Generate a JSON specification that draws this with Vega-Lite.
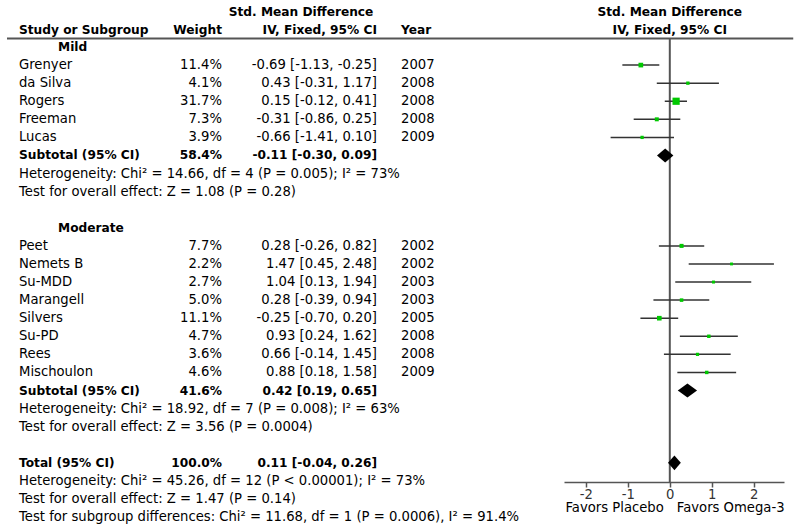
{
  "$schema": "https://vega.github.io/schema/vega-lite/v6.json",
  "padding": {"left": 6, "top": 0, "right": 0, "bottom": 0},
  "spacing": 0,
  "bounds": "flush",
  "background": "white",
  "config": {
    "view": {"stroke": null},
    "text": {"font": "DejaVu Sans", "fontSize": 13.2, "baseline": "middle", "color": "#000"}
  },
  "datasets": {
    "one": [{}],
    "studies": [
      {"row": 1, "study": "Grenyer", "w": 0.114, "est": -0.69, "lo": -1.13, "hi": -0.25, "ci": "-0.69 [-1.13, -0.25]", "year": "2007"},
      {"row": 2, "study": "da Silva", "w": 0.041, "est": 0.43, "lo": -0.31, "hi": 1.17, "ci": "0.43 [-0.31, 1.17]", "year": "2008"},
      {"row": 3, "study": "Rogers", "w": 0.317, "est": 0.15, "lo": -0.12, "hi": 0.41, "ci": "0.15 [-0.12, 0.41]", "year": "2008"},
      {"row": 4, "study": "Freeman", "w": 0.073, "est": -0.31, "lo": -0.86, "hi": 0.25, "ci": "-0.31 [-0.86, 0.25]", "year": "2008"},
      {"row": 5, "study": "Lucas", "w": 0.039, "est": -0.66, "lo": -1.41, "hi": 0.10, "ci": "-0.66 [-1.41, 0.10]", "year": "2009"},
      {"row": 11, "study": "Peet", "w": 0.077, "est": 0.28, "lo": -0.26, "hi": 0.82, "ci": "0.28 [-0.26, 0.82]", "year": "2002"},
      {"row": 12, "study": "Nemets B", "w": 0.022, "est": 1.47, "lo": 0.45, "hi": 2.48, "ci": "1.47 [0.45, 2.48]", "year": "2002"},
      {"row": 13, "study": "Su-MDD", "w": 0.027, "est": 1.04, "lo": 0.13, "hi": 1.94, "ci": "1.04 [0.13, 1.94]", "year": "2003"},
      {"row": 14, "study": "Marangell", "w": 0.050, "est": 0.28, "lo": -0.39, "hi": 0.94, "ci": "0.28 [-0.39, 0.94]", "year": "2003"},
      {"row": 15, "study": "Silvers", "w": 0.111, "est": -0.25, "lo": -0.70, "hi": 0.20, "ci": "-0.25 [-0.70, 0.20]", "year": "2005"},
      {"row": 16, "study": "Su-PD", "w": 0.047, "est": 0.93, "lo": 0.24, "hi": 1.62, "ci": "0.93 [0.24, 1.62]", "year": "2008"},
      {"row": 17, "study": "Rees", "w": 0.036, "est": 0.66, "lo": -0.14, "hi": 1.45, "ci": "0.66 [-0.14, 1.45]", "year": "2008"},
      {"row": 18, "study": "Mischoulon", "w": 0.046, "est": 0.88, "lo": 0.18, "hi": 1.58, "ci": "0.88 [0.18, 1.58]", "year": "2009"}
    ],
    "groups": [
      {"row": 0, "label": "Mild"},
      {"row": 10, "label": "Moderate"}
    ],
    "totals": [
      {"row": 6, "label": "Subtotal (95% CI)", "w": 0.584, "est": -0.11, "lo": -0.30, "hi": 0.09, "ci": "-0.11 [-0.30, 0.09]"},
      {"row": 19, "label": "Subtotal (95% CI)", "w": 0.416, "est": 0.42, "lo": 0.19, "hi": 0.65, "ci": "0.42 [0.19, 0.65]"},
      {"row": 23, "label": "Total (95% CI)", "w": 1.0, "est": 0.11, "lo": -0.04, "hi": 0.26, "ci": "0.11 [-0.04, 0.26]"}
    ],
    "notes": [
      {"row": 7, "text": "Heterogeneity: Chi² = 14.66, df = 4 (P = 0.005); I² = 73%"},
      {"row": 8, "text": "Test for overall effect: Z = 1.08 (P = 0.28)"},
      {"row": 20, "text": "Heterogeneity: Chi² = 18.92, df = 7 (P = 0.008); I² = 63%"},
      {"row": 21, "text": "Test for overall effect: Z = 3.56 (P = 0.0004)"},
      {"row": 24, "text": "Heterogeneity: Chi² = 45.26, df = 12 (P < 0.00001); I² = 73%"},
      {"row": 25, "text": "Test for overall effect: Z = 1.47 (P = 0.14)"},
      {"row": 26, "text": "Test for subgroup differences: Chi² = 11.68, df = 1 (P = 0.0006), I² = 91.4%"}
    ]
  },
  "hconcat": [
    {
      "width": 215,
      "height": 482,
      "layer": [
        {
          "data": {"name": "one"},
          "mark": {"type": "rule", "color": "#555", "strokeWidth": 2},
          "encoding": {
            "y": {"datum": -0.47, "type": "quantitative", "scale": {"domain": [-2.6, 24.06], "reverse": true, "nice": false, "zero": false}, "axis": null}
          }
        },
        {
          "data": {"name": "one"},
          "mark": {"type": "text", "align": "left", "dx": 12, "fontWeight": "bold", "fontSize": 12.2},
          "encoding": {
            "x": {"datum": 0, "type": "quantitative", "scale": {"domain": [0, 1]}, "axis": null},
            "y": {"datum": -0.94, "type": "quantitative", "scale": {"domain": [-2.6, 24.06], "reverse": true, "nice": false, "zero": false}, "axis": null},
            "text": {"value": "Study or Subgroup"}
          }
        },
        {
          "data": {"name": "one"},
          "mark": {"type": "text", "align": "right", "fontWeight": "bold", "fontSize": 12.2},
          "encoding": {
            "x": {"datum": 1, "type": "quantitative", "scale": {"domain": [0, 1]}, "axis": null},
            "y": {"datum": -0.94, "type": "quantitative", "scale": {"domain": [-2.6, 24.06], "reverse": true, "nice": false, "zero": false}, "axis": null},
            "text": {"value": "Weight"}
          }
        },
        {
          "data": {"name": "groups"},
          "mark": {"type": "text", "align": "left", "dx": 51, "fontWeight": "bold", "fontSize": 12.2},
          "encoding": {
            "x": {"datum": 0, "type": "quantitative", "scale": {"domain": [0, 1]}, "axis": null},
            "y": {"field": "row", "type": "quantitative", "scale": {"domain": [-2.6, 24.06], "reverse": true, "nice": false, "zero": false}, "axis": null},
            "text": {"field": "label"}
          }
        },
        {
          "data": {"name": "studies"},
          "mark": {"type": "text", "align": "left", "dx": 12},
          "encoding": {
            "x": {"datum": 0, "type": "quantitative", "scale": {"domain": [0, 1]}, "axis": null},
            "y": {"field": "row", "type": "quantitative", "scale": {"domain": [-2.6, 24.06], "reverse": true, "nice": false, "zero": false}, "axis": null},
            "text": {"field": "study"}
          }
        },
        {
          "data": {"name": "studies"},
          "mark": {"type": "text", "align": "right"},
          "encoding": {
            "x": {"datum": 1, "type": "quantitative", "scale": {"domain": [0, 1]}, "axis": null},
            "y": {"field": "row", "type": "quantitative", "scale": {"domain": [-2.6, 24.06], "reverse": true, "nice": false, "zero": false}, "axis": null},
            "text": {"field": "w", "type": "quantitative", "format": ".1%"}
          }
        },
        {
          "data": {"name": "totals"},
          "mark": {"type": "text", "align": "left", "dx": 12, "fontWeight": "bold", "fontSize": 12.2},
          "encoding": {
            "x": {"datum": 0, "type": "quantitative", "scale": {"domain": [0, 1]}, "axis": null},
            "y": {"field": "row", "type": "quantitative", "scale": {"domain": [-2.6, 24.06], "reverse": true, "nice": false, "zero": false}, "axis": null},
            "text": {"field": "label"}
          }
        },
        {
          "data": {"name": "totals"},
          "mark": {"type": "text", "align": "right", "fontWeight": "bold", "fontSize": 12.2},
          "encoding": {
            "x": {"datum": 1, "type": "quantitative", "scale": {"domain": [0, 1]}, "axis": null},
            "y": {"field": "row", "type": "quantitative", "scale": {"domain": [-2.6, 24.06], "reverse": true, "nice": false, "zero": false}, "axis": null},
            "text": {"field": "w", "type": "quantitative", "format": ".1%"}
          }
        },
        {
          "data": {"name": "notes"},
          "mark": {"type": "text", "align": "left", "dx": 12},
          "encoding": {
            "x": {"datum": 0, "type": "quantitative", "scale": {"domain": [0, 1]}, "axis": null},
            "y": {"field": "row", "type": "quantitative", "scale": {"domain": [-2.6, 24.06], "reverse": true, "nice": false, "zero": false}, "axis": null},
            "text": {"field": "text"}
          }
        }
      ]
    },
    {
      "width": 155,
      "height": 482,
      "layer": [
        {
          "data": {"name": "one"},
          "mark": {"type": "rule", "color": "#555", "strokeWidth": 2},
          "encoding": {
            "y": {"datum": -0.47, "type": "quantitative", "scale": {"domain": [-2.6, 24.06], "reverse": true, "nice": false, "zero": false}, "axis": null}
          }
        },
        {
          "data": {"name": "one"},
          "mark": {"type": "text", "align": "center", "fontWeight": "bold", "fontSize": 12.2},
          "encoding": {
            "x": {"datum": 0.51, "type": "quantitative", "scale": {"domain": [0, 1]}, "axis": null},
            "y": {"datum": -1.95, "type": "quantitative", "scale": {"domain": [-2.6, 24.06], "reverse": true, "nice": false, "zero": false}, "axis": null},
            "text": {"value": "Std. Mean Difference"}
          }
        },
        {
          "data": {"name": "one"},
          "mark": {"type": "text", "align": "right", "fontWeight": "bold", "fontSize": 12.2},
          "encoding": {
            "x": {"datum": 1, "type": "quantitative", "scale": {"domain": [0, 1]}, "axis": null},
            "y": {"datum": -0.94, "type": "quantitative", "scale": {"domain": [-2.6, 24.06], "reverse": true, "nice": false, "zero": false}, "axis": null},
            "text": {"value": "IV, Fixed, 95% CI"}
          }
        },
        {
          "data": {"name": "studies"},
          "mark": {"type": "text", "align": "right"},
          "encoding": {
            "x": {"datum": 1, "type": "quantitative", "scale": {"domain": [0, 1]}, "axis": null},
            "y": {"field": "row", "type": "quantitative", "scale": {"domain": [-2.6, 24.06], "reverse": true, "nice": false, "zero": false}, "axis": null},
            "text": {"field": "ci"}
          }
        },
        {
          "data": {"name": "totals"},
          "mark": {"type": "text", "align": "right", "fontWeight": "bold", "fontSize": 12.2},
          "encoding": {
            "x": {"datum": 1, "type": "quantitative", "scale": {"domain": [0, 1]}, "axis": null},
            "y": {"field": "row", "type": "quantitative", "scale": {"domain": [-2.6, 24.06], "reverse": true, "nice": false, "zero": false}, "axis": null},
            "text": {"field": "ci"}
          }
        }
      ]
    },
    {
      "width": 187,
      "height": 482,
      "layer": [
        {
          "data": {"name": "one"},
          "mark": {"type": "rule", "color": "#555", "strokeWidth": 2},
          "encoding": {
            "y": {"datum": -0.47, "type": "quantitative", "scale": {"domain": [-2.6, 24.06], "reverse": true, "nice": false, "zero": false}, "axis": null}
          }
        },
        {
          "data": {"name": "one"},
          "mark": {"type": "text", "align": "left", "dx": 24, "fontWeight": "bold", "fontSize": 12.2},
          "encoding": {
            "x": {"datum": 0, "type": "quantitative", "scale": {"domain": [0, 1]}, "axis": null},
            "y": {"datum": -0.94, "type": "quantitative", "scale": {"domain": [-2.6, 24.06], "reverse": true, "nice": false, "zero": false}, "axis": null},
            "text": {"value": "Year"}
          }
        },
        {
          "data": {"name": "studies"},
          "mark": {"type": "text", "align": "left", "dx": 24},
          "encoding": {
            "x": {"datum": 0, "type": "quantitative", "scale": {"domain": [0, 1]}, "axis": null},
            "y": {"field": "row", "type": "quantitative", "scale": {"domain": [-2.6, 24.06], "reverse": true, "nice": false, "zero": false}, "axis": null},
            "text": {"field": "year"}
          }
        }
      ]
    },
    {
      "width": 220,
      "height": 482,
      "layer": [
        {
          "data": {"name": "one"},
          "mark": {"type": "rule", "color": "#555", "strokeWidth": 2},
          "encoding": {
            "x": {"datum": -2.52, "type": "quantitative", "scale": {"domain": [-2.52, 2.72], "nice": false, "zero": false}, "axis": {"values": [-2, -1, 0, 1, 2], "title": null, "grid": false, "labelExpr": "datum.value < 0 ? '-' + abs(datum.value) : '' + datum.value", "labelFont": "DejaVu Sans", "labelFontSize": 13.2, "labelColor": "#333", "domainColor": "#555", "domainWidth": 1.5, "tickColor": "#555", "tickWidth": 1.5, "tickSize": 5, "labelPadding": 1}},
            "x2": {"datum": 2.94},
            "y": {"datum": -0.47, "type": "quantitative", "scale": {"domain": [-2.6, 24.06], "reverse": true, "nice": false, "zero": false}, "axis": null}
          }
        },
        {
          "data": {"name": "one"},
          "mark": {"type": "rule", "color": "#555", "strokeWidth": 2},
          "encoding": {
            "x": {"datum": 0, "type": "quantitative", "scale": {"domain": [-2.52, 2.72], "nice": false, "zero": false}, "axis": {"values": [-2, -1, 0, 1, 2], "title": null, "grid": false, "labelExpr": "datum.value < 0 ? '-' + abs(datum.value) : '' + datum.value", "labelFont": "DejaVu Sans", "labelFontSize": 13.2, "labelColor": "#333", "domainColor": "#555", "domainWidth": 1.5, "tickColor": "#555", "tickWidth": 1.5, "tickSize": 5, "labelPadding": 1}},
            "y": {"datum": -0.47, "type": "quantitative", "scale": {"domain": [-2.6, 24.06], "reverse": true, "nice": false, "zero": false}, "axis": null},
            "y2": {"datum": 24.06}
          }
        },
        {
          "data": {"name": "one"},
          "mark": {"type": "text", "align": "center", "fontWeight": "bold", "fontSize": 12.2},
          "encoding": {
            "x": {"datum": 0, "type": "quantitative", "scale": {"domain": [-2.52, 2.72], "nice": false, "zero": false}, "axis": {"values": [-2, -1, 0, 1, 2], "title": null, "grid": false, "labelExpr": "datum.value < 0 ? '-' + abs(datum.value) : '' + datum.value", "labelFont": "DejaVu Sans", "labelFontSize": 13.2, "labelColor": "#333", "domainColor": "#555", "domainWidth": 1.5, "tickColor": "#555", "tickWidth": 1.5, "tickSize": 5, "labelPadding": 1}},
            "y": {"datum": -1.95, "type": "quantitative", "scale": {"domain": [-2.6, 24.06], "reverse": true, "nice": false, "zero": false}, "axis": null},
            "text": {"value": "Std. Mean Difference"}
          }
        },
        {
          "data": {"name": "one"},
          "mark": {"type": "text", "align": "center", "fontWeight": "bold", "fontSize": 12.2},
          "encoding": {
            "x": {"datum": 0, "type": "quantitative", "scale": {"domain": [-2.52, 2.72], "nice": false, "zero": false}, "axis": {"values": [-2, -1, 0, 1, 2], "title": null, "grid": false, "labelExpr": "datum.value < 0 ? '-' + abs(datum.value) : '' + datum.value", "labelFont": "DejaVu Sans", "labelFontSize": 13.2, "labelColor": "#333", "domainColor": "#555", "domainWidth": 1.5, "tickColor": "#555", "tickWidth": 1.5, "tickSize": 5, "labelPadding": 1}},
            "y": {"datum": -0.94, "type": "quantitative", "scale": {"domain": [-2.6, 24.06], "reverse": true, "nice": false, "zero": false}, "axis": null},
            "text": {"value": "IV, Fixed, 95% CI"}
          }
        },
        {
          "data": {"name": "studies"},
          "mark": {"type": "rule", "color": "#333", "strokeWidth": 1.5},
          "encoding": {
            "x": {"field": "lo", "type": "quantitative", "scale": {"domain": [-2.52, 2.72], "nice": false, "zero": false}, "axis": {"values": [-2, -1, 0, 1, 2], "title": null, "grid": false, "labelExpr": "datum.value < 0 ? '-' + abs(datum.value) : '' + datum.value", "labelFont": "DejaVu Sans", "labelFontSize": 13.2, "labelColor": "#333", "domainColor": "#555", "domainWidth": 1.5, "tickColor": "#555", "tickWidth": 1.5, "tickSize": 5, "labelPadding": 1}},
            "x2": {"field": "hi"},
            "y": {"field": "row", "type": "quantitative", "scale": {"domain": [-2.6, 24.06], "reverse": true, "nice": false, "zero": false}, "axis": null}
          }
        },
        {
          "data": {"name": "studies"},
          "mark": {"type": "point", "shape": "square", "filled": true, "opacity": 1, "color": "#00c800", "strokeWidth": 0},
          "encoding": {
            "x": {"field": "est", "type": "quantitative", "scale": {"domain": [-2.52, 2.72], "nice": false, "zero": false}, "axis": {"values": [-2, -1, 0, 1, 2], "title": null, "grid": false, "labelExpr": "datum.value < 0 ? '-' + abs(datum.value) : '' + datum.value", "labelFont": "DejaVu Sans", "labelFontSize": 13.2, "labelColor": "#333", "domainColor": "#555", "domainWidth": 1.5, "tickColor": "#555", "tickWidth": 1.5, "tickSize": 5, "labelPadding": 1}},
            "y": {"field": "row", "type": "quantitative", "scale": {"domain": [-2.6, 24.06], "reverse": true, "nice": false, "zero": false}, "axis": null},
            "size": {"field": "w", "type": "quantitative", "scale": {"domain": [0, 0.317], "range": [5, 52]}, "legend": null}
          }
        },
        {
          "data": {"name": "totals"},
          "transform": [{"filter": "datum.row == 6"}],
          "mark": {"type": "point", "filled": true, "opacity": 1, "color": "#000", "strokeWidth": 0, "shape": "M-1,0L0,-0.85L1,0L0,0.85Z", "size": 269},
          "encoding": {
            "x": {"field": "est", "type": "quantitative", "scale": {"domain": [-2.52, 2.72], "nice": false, "zero": false}, "axis": {"values": [-2, -1, 0, 1, 2], "title": null, "grid": false, "labelExpr": "datum.value < 0 ? '-' + abs(datum.value) : '' + datum.value", "labelFont": "DejaVu Sans", "labelFontSize": 13.2, "labelColor": "#333", "domainColor": "#555", "domainWidth": 1.5, "tickColor": "#555", "tickWidth": 1.5, "tickSize": 5, "labelPadding": 1}},
            "y": {"field": "row", "type": "quantitative", "scale": {"domain": [-2.6, 24.06], "reverse": true, "nice": false, "zero": false}, "axis": null}
          }
        },
        {
          "data": {"name": "totals"},
          "transform": [{"filter": "datum.row == 19"}],
          "mark": {"type": "point", "filled": true, "opacity": 1, "color": "#000", "strokeWidth": 0, "shape": "M-1,0L0,-0.73L1,0L0,0.73Z", "size": 373},
          "encoding": {
            "x": {"field": "est", "type": "quantitative", "scale": {"domain": [-2.52, 2.72], "nice": false, "zero": false}, "axis": {"values": [-2, -1, 0, 1, 2], "title": null, "grid": false, "labelExpr": "datum.value < 0 ? '-' + abs(datum.value) : '' + datum.value", "labelFont": "DejaVu Sans", "labelFontSize": 13.2, "labelColor": "#333", "domainColor": "#555", "domainWidth": 1.5, "tickColor": "#555", "tickWidth": 1.5, "tickSize": 5, "labelPadding": 1}},
            "y": {"field": "row", "type": "quantitative", "scale": {"domain": [-2.6, 24.06], "reverse": true, "nice": false, "zero": false}, "axis": null}
          }
        },
        {
          "data": {"name": "totals"},
          "transform": [{"filter": "datum.row == 23"}],
          "mark": {"type": "point", "filled": true, "opacity": 1, "color": "#000", "strokeWidth": 0, "shape": "M-1,0L0,-1.15L1,0L0,1.15Z", "size": 165},
          "encoding": {
            "x": {"field": "est", "type": "quantitative", "scale": {"domain": [-2.52, 2.72], "nice": false, "zero": false}, "axis": {"values": [-2, -1, 0, 1, 2], "title": null, "grid": false, "labelExpr": "datum.value < 0 ? '-' + abs(datum.value) : '' + datum.value", "labelFont": "DejaVu Sans", "labelFontSize": 13.2, "labelColor": "#333", "domainColor": "#555", "domainWidth": 1.5, "tickColor": "#555", "tickWidth": 1.5, "tickSize": 5, "labelPadding": 1}},
            "y": {"field": "row", "type": "quantitative", "scale": {"domain": [-2.6, 24.06], "reverse": true, "nice": false, "zero": false}, "axis": null}
          }
        },
        {
          "data": {"name": "one"},
          "mark": {"type": "text", "align": "right", "dx": -6},
          "encoding": {
            "x": {"datum": 0, "type": "quantitative", "scale": {"domain": [-2.52, 2.72], "nice": false, "zero": false}, "axis": {"values": [-2, -1, 0, 1, 2], "title": null, "grid": false, "labelExpr": "datum.value < 0 ? '-' + abs(datum.value) : '' + datum.value", "labelFont": "DejaVu Sans", "labelFontSize": 13.2, "labelColor": "#333", "domainColor": "#555", "domainWidth": 1.5, "tickColor": "#555", "tickWidth": 1.5, "tickSize": 5, "labelPadding": 1}},
            "y": {"datum": 25.5, "type": "quantitative", "scale": {"domain": [-2.6, 24.06], "reverse": true, "nice": false, "zero": false}, "axis": null},
            "text": {"value": "Favors Placebo"}
          }
        },
        {
          "data": {"name": "one"},
          "mark": {"type": "text", "align": "left", "dx": 7},
          "encoding": {
            "x": {"datum": 0, "type": "quantitative", "scale": {"domain": [-2.52, 2.72], "nice": false, "zero": false}, "axis": {"values": [-2, -1, 0, 1, 2], "title": null, "grid": false, "labelExpr": "datum.value < 0 ? '-' + abs(datum.value) : '' + datum.value", "labelFont": "DejaVu Sans", "labelFontSize": 13.2, "labelColor": "#333", "domainColor": "#555", "domainWidth": 1.5, "tickColor": "#555", "tickWidth": 1.5, "tickSize": 5, "labelPadding": 1}},
            "y": {"datum": 25.5, "type": "quantitative", "scale": {"domain": [-2.6, 24.06], "reverse": true, "nice": false, "zero": false}, "axis": null},
            "text": {"value": "Favors Omega-3"}
          }
        }
      ]
    }
  ]
}
